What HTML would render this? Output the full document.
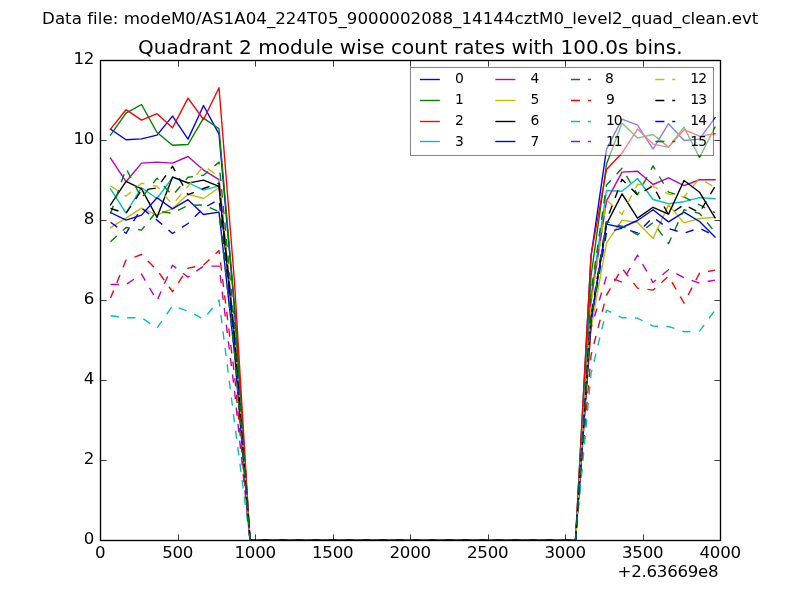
<!DOCTYPE html>
<html lang="en"><head><meta charset="utf-8"><title>Quadrant 2 module wise count rates</title>
<style>html,body{margin:0;padding:0;background:#fff;overflow:hidden}svg{display:block;will-change:transform}text{font-family:"DejaVu Sans","Liberation Sans",sans-serif;fill:#000}.tk{font-size:16.667px;letter-spacing:-0.3px}.lg{font-size:13.889px}.ti{font-size:20px;letter-spacing:0.033px}.su{font-size:16.667px;letter-spacing:0.022px}</style></head><body>
<svg width="800" height="600" viewBox="0 0 800 600">
<rect x="0" y="0" width="800" height="600" fill="#ffffff"/>
<defs><clipPath id="ax"><rect x="100" y="60" width="620" height="480"/></clipPath></defs>
<g clip-path="url(#ax)" fill="none" stroke-linejoin="round" stroke-linecap="butt" stroke-width="1.389">
<polyline points="110.53,129.10 126.03,139.70 141.52,138.90 157.02,135.10 172.52,116.10 188.02,139.10 203.52,105.50 219.02,134.10 234.52,308.68 250.02,540.10 265.52,540.10 281.03,540.10 296.52,540.10 312.02,540.10 327.53,540.10 343.02,540.10 358.52,540.10 374.02,540.10 389.52,540.10 405.02,540.10 420.52,540.10 436.02,540.10 451.53,540.10 467.03,540.10 482.52,540.10 498.02,540.10 513.53,540.10 529.03,540.10 544.53,540.10 560.03,540.10 575.53,540.10 591.03,256.10 606.53,149.10 622.03,119.10 637.52,125.10 653.03,149.10 668.53,123.70 684.03,140.50 699.53,139.10 715.02,117.70" stroke="#0000ff" stroke-linecap="square"/>
<polyline points="110.53,135.10 126.03,113.10 141.52,104.50 157.02,132.50 172.52,145.30 188.02,144.50 203.52,118.10 219.02,128.70 234.52,305.60 250.02,540.10 265.52,540.10 281.03,540.10 296.52,540.10 312.02,540.10 327.53,540.10 343.02,540.10 358.52,540.10 374.02,540.10 389.52,540.10 405.02,540.10 420.52,540.10 436.02,540.10 451.53,540.10 467.03,540.10 482.52,540.10 498.02,540.10 513.53,540.10 529.03,540.10 544.53,540.10 560.03,540.10 575.53,540.10 591.03,276.10 606.53,164.10 622.03,123.10 637.52,138.10 653.03,134.50 668.53,147.10 684.03,127.10 699.53,157.50 715.02,127.10" stroke="#008000" stroke-linecap="square"/>
<polyline points="110.53,129.10 126.03,109.70 141.52,120.10 157.02,113.70 172.52,127.70 188.02,98.10 203.52,119.50 219.02,87.70 234.52,282.23 250.02,540.10 265.52,540.10 281.03,540.10 296.52,540.10 312.02,540.10 327.53,540.10 343.02,540.10 358.52,540.10 374.02,540.10 389.52,540.10 405.02,540.10 420.52,540.10 436.02,540.10 451.53,540.10 467.03,540.10 482.52,540.10 498.02,540.10 513.53,540.10 529.03,540.10 544.53,540.10 560.03,540.10 575.53,540.10 591.03,255.30 606.53,169.50 622.03,153.10 637.52,129.10 653.03,144.10 668.53,147.10 684.03,129.70 699.53,136.10 715.02,133.70" stroke="#ff0000" stroke-linecap="square"/>
<polyline points="110.53,188.90 126.03,213.10 141.52,187.70 157.02,198.50 172.52,177.70 188.02,182.50 203.52,190.10 219.02,185.90 234.52,338.21 250.02,540.10 265.52,540.10 281.03,540.10 296.52,540.10 312.02,540.10 327.53,540.10 343.02,540.10 358.52,540.10 374.02,540.10 389.52,540.10 405.02,540.10 420.52,540.10 436.02,540.10 451.53,540.10 467.03,540.10 482.52,540.10 498.02,540.10 513.53,540.10 529.03,540.10 544.53,540.10 560.03,540.10 575.53,540.10 591.03,296.10 606.53,190.50 622.03,191.30 637.52,178.50 653.03,199.50 668.53,203.70 684.03,201.70 699.53,197.60 715.02,198.70" stroke="#00bfbf" stroke-linecap="square"/>
<polyline points="110.53,158.10 126.03,181.70 141.52,163.10 157.02,162.10 172.52,163.10 188.02,156.50 203.52,170.10 219.02,179.70 234.52,334.67 250.02,540.10 265.52,540.10 281.03,540.10 296.52,540.10 312.02,540.10 327.53,540.10 343.02,540.10 358.52,540.10 374.02,540.10 389.52,540.10 405.02,540.10 420.52,540.10 436.02,540.10 451.53,540.10 467.03,540.10 482.52,540.10 498.02,540.10 513.53,540.10 529.03,540.10 544.53,540.10 560.03,540.10 575.53,540.10 591.03,300.10 606.53,200.90 622.03,172.10 637.52,171.30 653.03,184.50 668.53,177.94 684.03,185.60 699.53,179.74 715.02,179.74" stroke="#bf00bf" stroke-linecap="square"/>
<polyline points="110.53,227.70 126.03,218.10 141.52,208.10 157.02,215.10 172.52,208.50 188.02,194.30 203.52,198.50 219.02,187.70 234.52,339.23 250.02,540.10 265.52,540.10 281.03,540.10 296.52,540.10 312.02,540.10 327.53,540.10 343.02,540.10 358.52,540.10 374.02,540.10 389.52,540.10 405.02,540.10 420.52,540.10 436.02,540.10 451.53,540.10 467.03,540.10 482.52,540.10 498.02,540.10 513.53,540.10 529.03,540.10 544.53,540.10 560.03,540.10 575.53,540.10 591.03,328.10 606.53,242.90 622.03,220.10 637.52,222.50 653.03,238.50 668.53,204.90 684.03,222.90 699.53,218.50 715.02,217.30" stroke="#bfbf00" stroke-linecap="square"/>
<polyline points="110.53,204.90 126.03,181.30 141.52,188.90 157.02,217.30 172.52,176.90 188.02,183.10 203.52,180.10 219.02,186.30 234.52,338.43 250.02,540.10 265.52,540.10 281.03,540.10 296.52,540.10 312.02,540.10 327.53,540.10 343.02,540.10 358.52,540.10 374.02,540.10 389.52,540.10 405.02,540.10 420.52,540.10 436.02,540.10 451.53,540.10 467.03,540.10 482.52,540.10 498.02,540.10 513.53,540.10 529.03,540.10 544.53,540.10 560.03,540.10 575.53,540.10 591.03,320.10 606.53,224.10 622.03,193.86 637.52,218.10 653.03,207.30 668.53,214.10 684.03,180.50 699.53,192.20 715.02,217.70" stroke="#000000" stroke-linecap="square"/>
<polyline points="110.53,212.50 126.03,220.10 141.52,215.10 157.02,197.70 172.52,208.90 188.02,199.70 203.52,214.50 219.02,212.10 234.52,353.14 250.02,540.10 265.52,540.10 281.03,540.10 296.52,540.10 312.02,540.10 327.53,540.10 343.02,540.10 358.52,540.10 374.02,540.10 389.52,540.10 405.02,540.10 420.52,540.10 436.02,540.10 451.53,540.10 467.03,540.10 482.52,540.10 498.02,540.10 513.53,540.10 529.03,540.10 544.53,540.10 560.03,540.10 575.53,540.10 591.03,320.10 606.53,224.10 622.03,227.50 637.52,220.50 653.03,209.70 668.53,221.86 684.03,212.10 699.53,221.50 715.02,236.90" stroke="#0000ff" stroke-linecap="square"/>
<polyline points="110.53,213.70 126.03,168.50 141.52,197.90 157.02,178.10 172.52,195.50 188.02,177.30 203.52,175.30 219.02,162.10 234.52,324.64 250.02,540.10" stroke="#008000" stroke-dasharray="8.333 8.333"/>
<polyline points="250.02,540.10 575.53,540.10" stroke="#008000" stroke-dasharray="8.333 8.333" stroke-dashoffset="1.988"/>
<polyline points="575.53,540.10 591.03,292.10 606.53,184.98 622.03,168.34 637.52,194.60 653.03,165.94 668.53,192.10 684.03,196.90 699.53,204.90 715.02,212.70" stroke="#008000" stroke-dasharray="8.333 8.333" stroke-dashoffset="11.822"/>
<polyline points="110.53,298.10 126.03,260.10 141.52,254.50 157.02,270.10 172.52,291.70 188.02,268.10 203.52,265.10 219.02,250.50 234.52,375.03 250.02,540.10" stroke="#ff0000" stroke-dasharray="8.333 8.333"/>
<polyline points="250.02,540.10 575.53,540.10" stroke="#ff0000" stroke-dasharray="8.333 8.333" stroke-dashoffset="12.700"/>
<polyline points="575.53,540.10 591.03,355.30 606.53,295.10 622.03,268.30 637.52,288.10 653.03,290.10 668.53,276.10 684.03,303.10 699.53,273.10 715.02,270.10" stroke="#ff0000" stroke-dasharray="8.333 8.333" stroke-dashoffset="2.867"/>
<polyline points="110.53,315.70 126.03,317.70 141.52,317.70 157.02,328.10 172.52,305.90 188.02,311.10 203.52,319.10 219.02,300.10 234.52,422.50 250.02,540.10" stroke="#00bfbf" stroke-dasharray="8.333 8.333"/>
<polyline points="250.02,540.10 575.53,540.10" stroke="#00bfbf" stroke-dasharray="8.333 8.333" stroke-dashoffset="10.510"/>
<polyline points="575.53,540.10 591.03,373.70 606.53,310.10 622.03,317.70 637.52,318.10 653.03,326.10 668.53,326.50 684.03,331.70 699.53,331.10 715.02,310.10" stroke="#00bfbf" stroke-dasharray="8.333 8.333" stroke-dashoffset="3.877"/>
<polyline points="110.53,284.50 126.03,284.50 141.52,274.10 157.02,300.70 172.52,265.30 188.02,277.10 203.52,266.10 219.02,266.10 234.52,390.77 250.02,540.10" stroke="#bf00bf" stroke-dasharray="8.333 8.333"/>
<polyline points="250.02,540.10 575.53,540.10" stroke="#bf00bf" stroke-dasharray="8.333 8.333" stroke-dashoffset="0.013"/>
<polyline points="575.53,540.10 591.03,328.10 606.53,276.30 622.03,282.10 637.52,255.10 653.03,282.50 668.53,269.70 684.03,277.70 699.53,283.10 715.02,280.10" stroke="#bf00bf" stroke-dasharray="8.333 8.333" stroke-dashoffset="8.646"/>
<polyline points="110.53,185.90 126.03,196.10 141.52,183.30 157.02,186.30 172.52,204.50 188.02,186.30 203.52,165.60 219.02,176.60 234.52,332.90 250.02,540.10" stroke="#bfbf00" stroke-dasharray="8.333 8.333"/>
<polyline points="250.02,540.10 575.53,540.10" stroke="#bfbf00" stroke-dasharray="8.333 8.333" stroke-dashoffset="11.969"/>
<polyline points="575.53,540.10 591.03,304.10 606.53,200.10 622.03,214.22 637.52,184.26 653.03,186.34 668.53,194.10 684.03,196.90 699.53,178.50 715.02,187.50" stroke="#bfbf00" stroke-dasharray="8.333 8.333" stroke-dashoffset="7.835"/>
<polyline points="110.53,208.50 126.03,213.30 141.52,190.30 157.02,187.90 172.52,166.30 188.02,194.70 203.52,188.50 219.02,183.10 234.52,336.61 250.02,540.10" stroke="#000000" stroke-dasharray="8.333 8.333"/>
<polyline points="250.02,540.10 575.53,540.10" stroke="#000000" stroke-dasharray="8.333 8.333" stroke-dashoffset="4.692"/>
<polyline points="575.53,540.10 591.03,316.10 606.53,220.70 622.03,179.30 637.52,194.90 653.03,185.82 668.53,214.90 684.03,204.74 699.53,212.50 715.02,186.50" stroke="#000000" stroke-dasharray="8.333 8.333" stroke-dashoffset="4.531"/>
<polyline points="110.53,222.26 126.03,233.30 141.52,208.10 157.02,220.10 172.52,233.50 188.02,223.46 203.52,208.10 219.02,199.46 234.52,345.94 250.02,540.10" stroke="#0000ff" stroke-dasharray="8.333 8.333"/>
<polyline points="250.02,540.10 575.53,540.10" stroke="#0000ff" stroke-dasharray="8.333 8.333" stroke-dashoffset="9.692"/>
<polyline points="575.53,540.10 591.03,320.10 606.53,232.50 622.03,228.10 637.52,232.90 653.03,217.30 668.53,228.60 684.03,233.10 699.53,228.10 715.02,236.10" stroke="#0000ff" stroke-dasharray="8.333 8.333" stroke-dashoffset="15.817"/>
<polyline points="110.53,241.70 126.03,227.50 141.52,230.10 157.02,210.90 172.52,213.30 188.02,205.46 203.52,204.90 219.02,211.70 234.52,352.91 250.02,540.10" stroke="#008000" stroke-dasharray="8.333 8.333"/>
<polyline points="250.02,540.10 575.53,540.10" stroke="#008000" stroke-dasharray="8.333 8.333" stroke-dashoffset="14.692"/>
<polyline points="575.53,540.10 591.03,320.10 606.53,221.70 622.03,226.10 637.52,234.74 653.03,222.50 668.53,243.70 684.03,209.70 699.53,213.38 715.02,232.10" stroke="#008000" stroke-dasharray="8.333 8.333" stroke-dashoffset="1.560"/>
</g>
<rect x="100.5" y="60.5" width="620" height="480" fill="none" stroke="#000" stroke-width="1.350"/>
<path d="M100.50 540.50V534.40M100.50 60.50V66.60M178.50 540.50V534.40M178.50 60.50V66.60M255.50 540.50V534.40M255.50 60.50V66.60M333.50 540.50V534.40M333.50 60.50V66.60M410.50 540.50V534.40M410.50 60.50V66.60M488.50 540.50V534.40M488.50 60.50V66.60M565.50 540.50V534.40M565.50 60.50V66.60M643.50 540.50V534.40M643.50 60.50V66.60M720.50 540.50V534.40M720.50 60.50V66.60M100.50 540.50H106.60M720.50 540.50H714.40M100.50 460.50H106.60M720.50 460.50H714.40M100.50 380.50H106.60M720.50 380.50H714.40M100.50 300.50H106.60M720.50 300.50H714.40M100.50 220.50H106.60M720.50 220.50H714.40M100.50 140.50H106.60M720.50 140.50H714.40M100.50 60.50H106.60M720.50 60.50H714.40" stroke="#000" stroke-width="0.750" fill="none"/>
<g>
<text class="tk" x="100.15" y="558.00" text-anchor="middle">0</text>
<text class="tk" x="177.65" y="558.00" text-anchor="middle">500</text>
<text class="tk" x="255.15" y="558.00" text-anchor="middle">1000</text>
<text class="tk" x="332.65" y="558.00" text-anchor="middle">1500</text>
<text class="tk" x="410.15" y="558.00" text-anchor="middle">2000</text>
<text class="tk" x="487.65" y="558.00" text-anchor="middle">2500</text>
<text class="tk" x="565.15" y="558.00" text-anchor="middle">3000</text>
<text class="tk" x="642.65" y="558.00" text-anchor="middle">3500</text>
<text class="tk" x="720.15" y="558.00" text-anchor="middle">4000</text>
<text class="tk" x="94.00" y="543.80" text-anchor="end">0</text>
<text class="tk" x="94.00" y="463.80" text-anchor="end">2</text>
<text class="tk" x="94.00" y="383.80" text-anchor="end">4</text>
<text class="tk" x="94.00" y="303.80" text-anchor="end">6</text>
<text class="tk" x="94.00" y="223.80" text-anchor="end">8</text>
<text class="tk" x="94.00" y="143.80" text-anchor="end">10</text>
<text class="tk" x="94.00" y="63.80" text-anchor="end">12</text>
<text class="tk" x="718.3" y="577.3" text-anchor="end">+2.63669e8</text>
<text class="ti" x="410.35" y="54" text-anchor="middle">Quadrant 2 module wise count rates with 100.0s bins.</text>
<text class="su" x="400.2" y="24.2" text-anchor="middle">Data file: modeM0/AS1A04_224T05_9000002088_14144cztM0_level2_quad_clean.evt</text>
</g>
<rect x="410.44" y="67.44" width="303.02" height="88.00" fill="#ffffff" fill-opacity="0.5" stroke="#000" stroke-opacity="0.5" stroke-width="1"/>
<line x1="419.86" y1="79.50" x2="439.90" y2="79.50" stroke="#0000ff" stroke-width="1.389"/>
<text class="lg" x="454.88" y="83.40">0</text>
<line x1="419.86" y1="100.50" x2="439.90" y2="100.50" stroke="#008000" stroke-width="1.389"/>
<text class="lg" x="454.88" y="104.20">1</text>
<line x1="419.86" y1="121.50" x2="439.90" y2="121.50" stroke="#ff0000" stroke-width="1.389"/>
<text class="lg" x="454.88" y="125.30">2</text>
<line x1="419.86" y1="141.50" x2="439.90" y2="141.50" stroke="#00bfbf" stroke-width="1.389"/>
<text class="lg" x="454.88" y="146.30">3</text>
<line x1="495.36" y1="79.50" x2="515.41" y2="79.50" stroke="#bf00bf" stroke-width="1.389"/>
<text class="lg" x="530.38" y="83.40">4</text>
<line x1="495.36" y1="100.50" x2="515.41" y2="100.50" stroke="#bfbf00" stroke-width="1.389"/>
<text class="lg" x="530.38" y="104.20">5</text>
<line x1="495.36" y1="121.50" x2="515.41" y2="121.50" stroke="#000000" stroke-width="1.389"/>
<text class="lg" x="530.38" y="125.30">6</text>
<line x1="495.36" y1="141.50" x2="515.41" y2="141.50" stroke="#0000ff" stroke-width="1.389"/>
<text class="lg" x="530.38" y="146.30">7</text>
<line x1="571.01" y1="79.50" x2="591.41" y2="79.50" stroke="#008000" stroke-width="1.389" stroke-dasharray="9 7.9 3 50"/>
<text class="lg" x="604.99" y="83.40">8</text>
<line x1="571.01" y1="100.50" x2="591.41" y2="100.50" stroke="#ff0000" stroke-width="1.389" stroke-dasharray="9 7.9 3 50"/>
<text class="lg" x="605.89" y="104.20">9</text>
<line x1="571.01" y1="121.50" x2="591.41" y2="121.50" stroke="#00bfbf" stroke-width="1.389" stroke-dasharray="9 7.9 3 50"/>
<text class="lg" x="605.89" y="125.30" letter-spacing="-0.9">10</text>
<line x1="571.01" y1="141.50" x2="591.41" y2="141.50" stroke="#bf00bf" stroke-width="1.389" stroke-dasharray="9 7.9 3 50"/>
<text class="lg" x="605.89" y="146.30" letter-spacing="-0.9">11</text>
<line x1="655.35" y1="79.50" x2="675.75" y2="79.50" stroke="#bfbf00" stroke-width="1.389" stroke-dasharray="9 7.9 3 50"/>
<text class="lg" x="690.23" y="83.40" letter-spacing="-0.9">12</text>
<line x1="655.35" y1="100.50" x2="675.75" y2="100.50" stroke="#000000" stroke-width="1.389" stroke-dasharray="9 7.9 3 50"/>
<text class="lg" x="690.23" y="104.20" letter-spacing="-0.9">13</text>
<line x1="655.35" y1="121.50" x2="675.75" y2="121.50" stroke="#0000ff" stroke-width="1.389" stroke-dasharray="9 7.9 3 50"/>
<text class="lg" x="690.23" y="125.30" letter-spacing="-0.9">14</text>
<line x1="655.35" y1="141.50" x2="675.75" y2="141.50" stroke="#008000" stroke-width="1.389" stroke-dasharray="9 7.9 3 50"/>
<text class="lg" x="690.23" y="146.30" letter-spacing="-0.9">15</text>
</svg></body></html>
